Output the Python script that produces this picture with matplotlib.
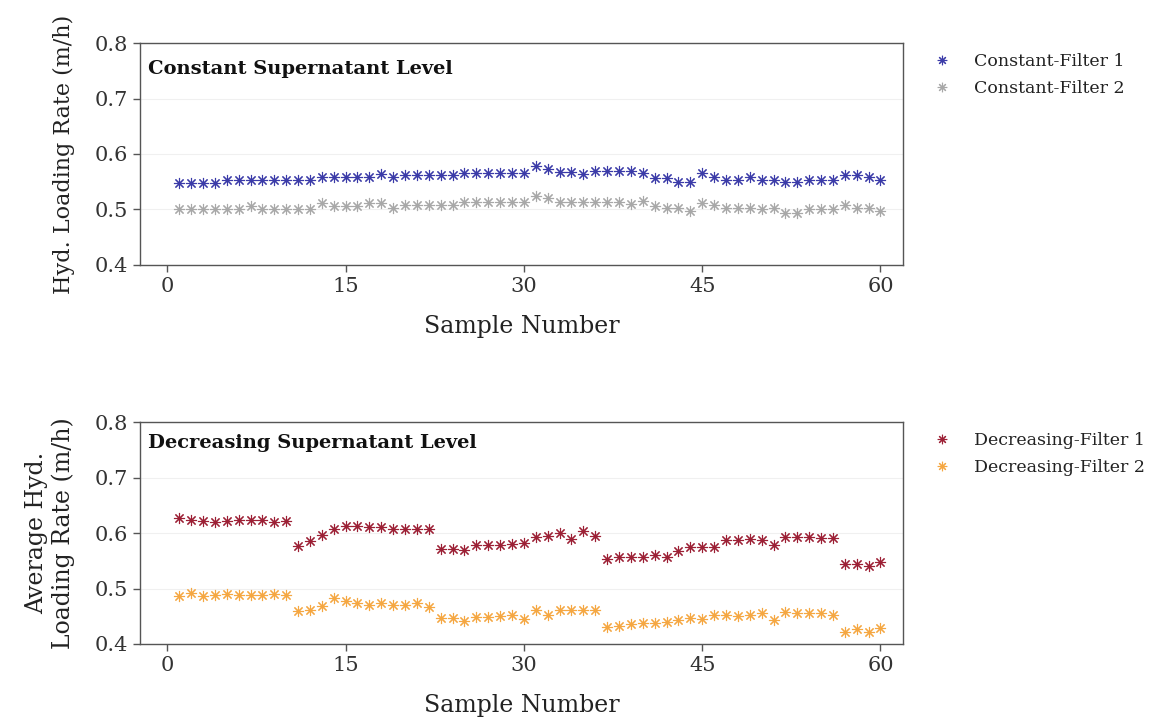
import numpy as np
import matplotlib.pyplot as plt

# sample numbers
samples = np.arange(1, 61)

# constant supernatant level (m/h)
const_f1 = [0.548, 0.548, 0.548, 0.548, 0.553, 0.553, 0.553, 0.553, 0.553, 0.553,
            0.553, 0.553, 0.559, 0.559, 0.559, 0.559, 0.559, 0.564, 0.558, 0.562,
            0.562, 0.562, 0.562, 0.562, 0.566, 0.566, 0.566, 0.565, 0.565, 0.565,
            0.579, 0.573, 0.567, 0.567, 0.564, 0.569, 0.569, 0.569, 0.569, 0.565,
            0.557, 0.557, 0.549, 0.549, 0.565, 0.558, 0.553, 0.553, 0.558, 0.553,
            0.553, 0.549, 0.549, 0.553, 0.553, 0.553, 0.562, 0.562, 0.558, 0.553]
const_f2 = [0.500, 0.500, 0.500, 0.500, 0.500, 0.500, 0.507, 0.500, 0.500, 0.500,
            0.500, 0.500, 0.512, 0.506, 0.506, 0.506, 0.512, 0.512, 0.503, 0.508,
            0.508, 0.508, 0.508, 0.508, 0.514, 0.514, 0.514, 0.514, 0.514, 0.514,
            0.524, 0.520, 0.514, 0.514, 0.514, 0.514, 0.514, 0.514, 0.510, 0.515,
            0.506, 0.503, 0.503, 0.498, 0.511, 0.508, 0.503, 0.503, 0.503, 0.500,
            0.503, 0.494, 0.494, 0.500, 0.500, 0.500, 0.508, 0.503, 0.503, 0.497]

# decreasing supernatant level (m/h)
decr_f1 = [0.627, 0.623, 0.621, 0.619, 0.621, 0.623, 0.624, 0.623, 0.619, 0.621,
           0.576, 0.585, 0.596, 0.608, 0.612, 0.612, 0.611, 0.610, 0.608, 0.608,
           0.608, 0.608, 0.571, 0.572, 0.570, 0.579, 0.579, 0.579, 0.580, 0.582,
           0.592, 0.595, 0.600, 0.589, 0.603, 0.595, 0.553, 0.557, 0.557, 0.557,
           0.561, 0.557, 0.567, 0.575, 0.575, 0.575, 0.588, 0.587, 0.590, 0.587,
           0.579, 0.593, 0.593, 0.593, 0.591, 0.591, 0.544, 0.544, 0.541, 0.548]
decr_f2 = [0.486, 0.492, 0.486, 0.488, 0.490, 0.488, 0.488, 0.488, 0.490, 0.488,
           0.459, 0.462, 0.468, 0.483, 0.477, 0.473, 0.470, 0.474, 0.471, 0.470,
           0.473, 0.467, 0.447, 0.447, 0.442, 0.448, 0.448, 0.450, 0.452, 0.445,
           0.462, 0.453, 0.462, 0.462, 0.462, 0.462, 0.431, 0.433, 0.436, 0.437,
           0.437, 0.439, 0.444, 0.447, 0.445, 0.453, 0.453, 0.451, 0.453, 0.456,
           0.444, 0.457, 0.456, 0.456, 0.455, 0.453, 0.421, 0.427, 0.421, 0.429]

FONT = 'DejaVu Serif'
plt.rcParams['font.family'] = FONT
plt.rcParams['text.color'] = '#222222'

fig = plt.figure(figsize=(11.51, 7.24), dpi=100)
ax1 = fig.add_axes([0.1216, 0.634, 0.663, 0.3066])
ax2 = fig.add_axes([0.1216, 0.1105, 0.663, 0.3066])

star = (8, 2, 0)

panels = [
    (ax1, const_f1, const_f2, '#3b3ba8', '#a8a8a8',
     'Constant-Filter 1', 'Constant-Filter 2',
     'Constant Supernatant Level', 'Hyd. Loading Rate (m/h)', 0.885, 16),
    (ax2, decr_f1, decr_f2, '#9c2035', '#f5a742',
     'Decreasing-Filter 1', 'Decreasing-Filter 2',
     'Decreasing Supernatant Level', 'Average Hyd.\nLoading Rate (m/h)', 0.905, 17),
]

for ax, y1, y2, c1, c2, l1, l2, title, ylab, ty, ysize in panels:
    ax.plot(samples, y1, linestyle='none', marker=star, markersize=8,
            markeredgewidth=0.8, color=c1, label=l1)
    ax.plot(samples, y2, linestyle='none', marker=star, markersize=8,
            markeredgewidth=0.8, color=c2, label=l2)
    ax.set_xlim(-2.3, 61.9)
    ax.set_ylim(0.4, 0.8)
    ax.set_xticks([0, 15, 30, 45, 60])
    ax.set_yticks([0.4, 0.5, 0.6, 0.7, 0.8])
    ax.set_yticklabels(['0.4', '0.5', '0.6', '0.7', '0.8'])
    ax.grid(axis='y', color='#f0f0f0', linewidth=0.8)
    ax.set_axisbelow(True)
    for s in ax.spines.values():
        s.set_color('#555555')
        s.set_linewidth(1.0)
    ax.tick_params(colors='#555555', labelcolor='#333333', labelsize=15,
                   length=5, width=1.0)
    ax.set_xlabel('Sample Number', fontsize=17, color='#222222', labelpad=14)
    ax.set_ylabel(ylab, fontsize=ysize, color='#222222', labelpad=14)
    ax.text(0.01, ty, title, transform=ax.transAxes, fontsize=14,
            fontweight='bold', va='center', ha='left', color='#111111')
    ax.legend(loc='upper left', bbox_to_anchor=(1.022, 1.025), frameon=False,
              fontsize=12.5, handlelength=0.8, handletextpad=1.4,
              labelspacing=0.55, markerscale=0.85)

fig.savefig('out.png', dpi=100)
